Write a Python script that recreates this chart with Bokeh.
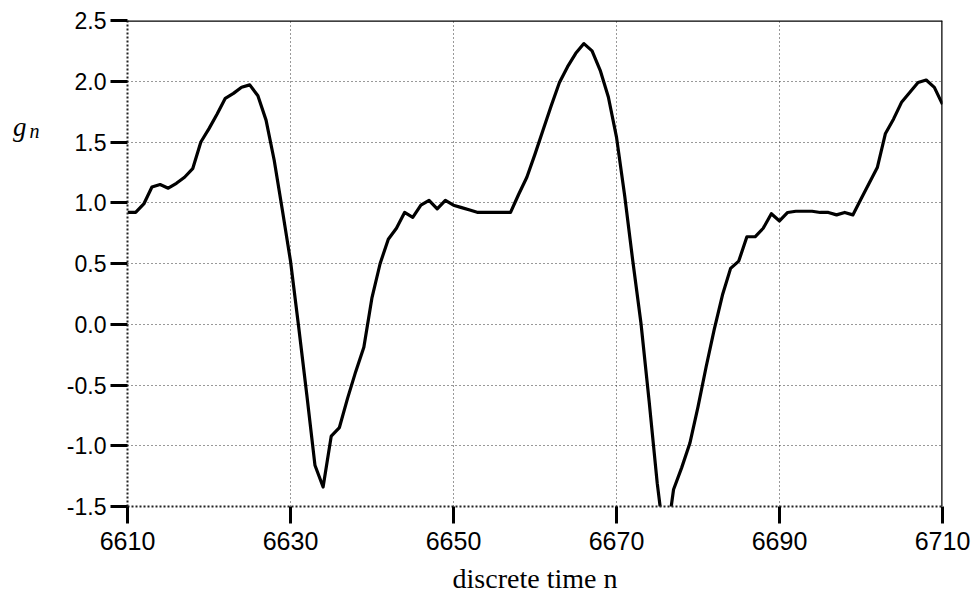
from bokeh.plotting import figure
from bokeh.models import Range1d, FixedTicker, PrintfTickFormatter, Span, LinearAxis
from bokeh.embed import file_html
from bokeh.resources import INLINE

# data: discrete time n and sample values g_n
n_start = 6610
g_values = [
    0.92, 0.92, 0.99, 1.13, 1.15, 1.12, 1.16, 1.21, 1.28, 1.50,   # 6610-6619
    1.61, 1.73, 1.86, 1.90, 1.95, 1.97, 1.88, 1.68, 1.35, 0.94,   # 6620-6629
    0.52, -0.02, -0.58, -1.16, -1.34, -0.92, -0.85, -0.61, -0.39, -0.19,  # 6630-6639
    0.22, 0.50, 0.70, 0.79, 0.92, 0.88, 0.98, 1.02, 0.95, 1.02,   # 6640-6649
    0.98, 0.96, 0.94, 0.92, 0.92, 0.92, 0.92, 0.92, 1.07, 1.21,   # 6650-6659
    1.40, 1.60, 1.80, 1.99, 2.12, 2.23, 2.31, 2.25, 2.09, 1.87,   # 6660-6669
    1.54, 1.06, 0.52, 0.01, -0.63, -1.31, -1.85, -1.36, -1.18, -0.98,  # 6670-6679
    -0.68, -0.35, -0.04, 0.24, 0.46, 0.52, 0.72, 0.72, 0.79, 0.91,  # 6680-6689
    0.85, 0.92, 0.93, 0.93, 0.93, 0.92, 0.92, 0.90, 0.92, 0.90,   # 6690-6699
    1.03, 1.16, 1.29, 1.57, 1.69, 1.83, 1.91, 1.99, 2.01, 1.95,   # 6700-6709
    1.81,                                                          # 6710
]
n_values = list(range(n_start, n_start + len(g_values)))

x_ticks = [6610, 6630, 6650, 6670, 6690, 6710]
y_ticks = [-1.5, -1.0, -0.5, 0.0, 0.5, 1.0, 1.5, 2.0, 2.5]
x_limits = (6610, 6710)
y_limits = (-1.5, 2.5)
x_title = "discrete time n"
y_symbol = "g"
y_subscript = "n"

p = figure(width=973, height=597, output_backend="svg", toolbar_location=None,
           x_range=Range1d(*x_limits), y_range=Range1d(*y_limits),
           min_border_left=127, min_border_right=31, min_border_top=20,
           min_border_bottom=91)
p.outline_line_color = None
p.background_fill_color = "white"
p.border_fill_color = "white"

p.line(n_values, g_values, line_color="black", line_width=3.2, line_join="round")

for ax in (p.xaxis[0], p.yaxis[0]):
    ax.axis_line_color = "#222222"
    ax.axis_line_width = 2
    ax.axis_line_dash = "2 2"
    ax.major_tick_out = 17
    ax.major_tick_in = 0
    ax.major_tick_line_width = 3
    ax.major_tick_line_color = "black"
    ax.minor_tick_line_color = None
    ax.major_label_text_font = "Liberation Sans"
    ax.major_label_text_color = "black"

p.xaxis.ticker = FixedTicker(ticks=x_ticks)
p.yaxis.ticker = FixedTicker(ticks=y_ticks)
p.yaxis.formatter = PrintfTickFormatter(format="%.1f")
p.xaxis.formatter = PrintfTickFormatter(format="%d")
p.xaxis.major_label_text_font_size = "25px"
p.yaxis.major_label_text_font_size = "23px"
p.xaxis.major_label_standoff = 8
p.yaxis.major_label_standoff = 4

# x axis title
p.xaxis.axis_label = x_title
p.xaxis.axis_label_text_font = "Liberation Serif"
p.xaxis.axis_label_text_font_style = "normal"
p.xaxis.axis_label_text_font_size = "28px"
p.xaxis.axis_label_text_color = "black"
p.xaxis.axis_label_standoff = 10

for g in (p.xgrid[0], p.ygrid[0]):
    g.grid_line_color = "#333333"
    g.grid_line_dash = "1 3"
    g.grid_line_width = 1

# top and right frame borders
p.add_layout(Span(location=y_limits[1], dimension="width", line_color="black", line_width=2.5))
p.add_layout(Span(location=x_limits[1], dimension="height", line_color="black", line_width=2.5))

# y symbol g_n drawn as tick labels of two bare extra axes on the left
def bare_axis(label_value, text, size, standoff):
    ax = LinearAxis(ticker=FixedTicker(ticks=[label_value]),
                    major_label_overrides={label_value: text})
    ax.axis_line_color = None
    ax.major_tick_line_color = None
    ax.minor_tick_line_color = None
    ax.major_tick_out = 0
    ax.major_tick_in = 0
    ax.major_label_standoff = standoff
    ax.major_label_text_font = "Liberation Serif"
    ax.major_label_text_font_style = "italic"
    ax.major_label_text_font_size = size
    ax.major_label_text_color = "black"
    return ax

p.add_layout(bare_axis(1.59, y_subscript, "20px", 24), "left")
p.add_layout(bare_axis(1.62, y_symbol, "27px", 0), "left")

open("out.html", "w").write(file_html(p, INLINE))
